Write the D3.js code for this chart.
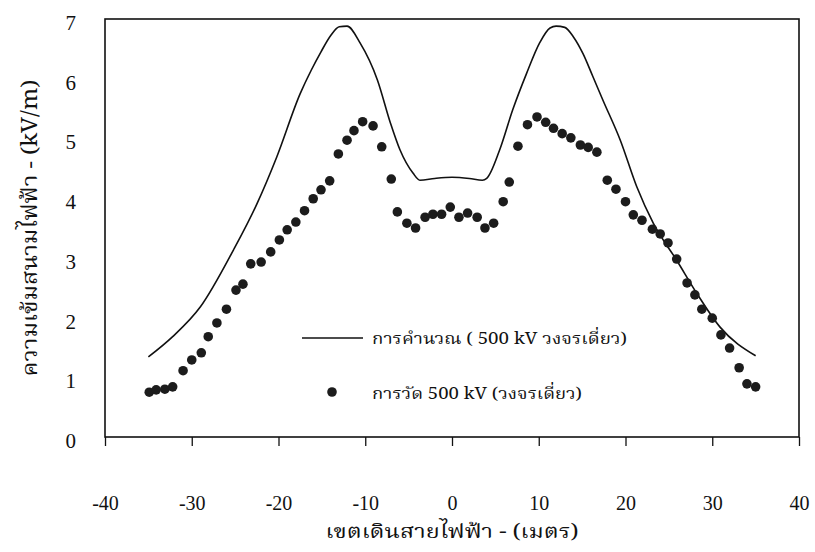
<!DOCTYPE html>
<html>
<head>
<meta charset="utf-8">
<script src="https://cdn.jsdelivr.net/npm/d3@7"></script>
<style>
  html, body { margin: 0; padding: 0; background: #ffffff; }
  svg { display: block; }
</style>
</head>
<body>
<svg id="chart" width="815" height="552"></svg>
<script>
// ---- data ----
const calcX = [-35, -32.2, -29, -25.2, -22.5, -20.2, -17.5, -16.2, -15.1, -14.0, -13.0, -12.1, -10.6, -8.6, -7.1, -6.0, -4.5, -3.7, -2, 0, 2, 3.5, 4.0, 5.5, 7.0, 8.6, 10.1, 11.3, 12.0, 13.0, 14.0, 15.1, 16.2, 17.4, 19.4, 21.3, 23.2, 25.9, 28.2, 30.9, 35];
const calcY = [1.34, 1.68, 2.18, 3.13, 3.9, 4.69, 5.75, 6.15, 6.45, 6.72, 6.87, 6.88, 6.60, 5.98, 5.26, 4.81, 4.42, 4.30, 4.33, 4.35, 4.33, 4.30, 4.33, 4.81, 5.48, 6.09, 6.60, 6.85, 6.88, 6.86, 6.70, 6.42, 6.05, 5.64, 4.97, 4.19, 3.58, 2.96, 2.41, 1.84, 1.36];

const measX = [-34.9, -34.1, -33.1, -32.2, -31.0, -30.0, -28.9, -28.1, -27.1, -26.0, -24.9, -24.1, -23.2, -22.0, -20.9, -19.9, -19.0, -18.0, -17.0, -16.0, -15.1, -14.1, -13.1, -12.1, -11.3, -10.3, -9.1, -8.1, -7.0, -6.3, -5.2, -4.2, -3.1, -2.2, -1.2, -0.2, 0.8, 1.8, 2.9, 3.8, 4.8, 5.9, 6.6, 7.6, 8.7, 9.8, 10.8, 11.7, 12.7, 13.7, 14.8, 15.7, 16.7, 17.9, 18.9, 20.0, 20.9, 21.9, 23.1, 24.0, 24.9, 25.9, 27.1, 28.0, 28.8, 30.0, 31.0, 32.0, 33.1, 34.0, 35.0];
const measY = [0.75, 0.79, 0.80, 0.84, 1.11, 1.29, 1.41, 1.68, 1.91, 2.14, 2.46, 2.56, 2.90, 2.93, 3.10, 3.30, 3.47, 3.60, 3.79, 3.99, 4.14, 4.29, 4.74, 4.97, 5.13, 5.28, 5.21, 4.86, 4.32, 3.77, 3.58, 3.50, 3.68, 3.73, 3.73, 3.85, 3.68, 3.75, 3.68, 3.50, 3.58, 3.94, 4.27, 4.87, 5.23, 5.36, 5.27, 5.17, 5.08, 5.01, 4.89, 4.85, 4.77, 4.30, 4.15, 3.94, 3.72, 3.63, 3.48, 3.40, 3.25, 2.98, 2.58, 2.38, 2.14, 1.99, 1.71, 1.49, 1.16, 0.89, 0.84];

const xTicks = [-40, -30, -20, -10, 0, 10, 20, 30, 40];
const yTicks = [0, 1, 2, 3, 4, 5, 6, 7];

const calcLabel = "การคำนวณ ( 500 kV วงจรเดี่ยว)";
const measLabel = "การวัด 500 kV (วงจรเดี่ยว)";
const xTitle = "เขตเดินสายไฟฟ้า - (เมตร)";
const yTitle = "ความเข้มสนามไฟฟ้า - (kV/m)";

// ---- layout ----
const L = 105, R = 799, T = 19, B = 437;
const serif = "'Liberation Serif', 'Times New Roman', serif";
const thai = "'Noto Serif Thai', 'Norasi', 'Noto Sans Thai', 'Loma', 'Garuda', 'Noto Sans', sans-serif";

const svg = d3.select("#chart");
const x = d3.scaleLinear().domain([-40, 40]).range([L, R]);
const y = d3.scaleLinear().domain([0, 7]).range([B, T]);

// frame
svg.append("rect").attr("x", L).attr("y", T).attr("width", R - L).attr("height", B - T)
  .attr("fill", "none").attr("stroke", "#111").attr("stroke-width", 1.6);

// x axis
const xAxis = d3.axisBottom(x).tickValues(xTicks).tickSize(9).tickPadding(58).tickFormat(d => String(d));
const gx = svg.append("g").attr("transform", `translate(0,${B})`).call(xAxis);
gx.select(".domain").remove();
gx.selectAll(".tick line").attr("stroke", "#111").attr("stroke-width", 1.3);
gx.selectAll(".tick text").attr("font-family", serif).attr("font-size", 20).attr("fill", "#111")
  .attr("dy", "0.32em");

// y axis (labels only)
const yAxis = d3.axisLeft(y).tickValues(yTicks).tickSize(0).tickPadding(29).tickFormat(d => String(d));
const gy = svg.append("g").attr("transform", `translate(${L},0)`).call(yAxis);
gy.select(".domain").remove();
gy.selectAll(".tick text").attr("font-family", serif).attr("font-size", 21).attr("fill", "#111")
  .attr("dy", "0.5em");

// calculated line
const line = d3.line().x(d => x(d[0])).y(d => y(d[1])).curve(d3.curveMonotoneX);
svg.append("path").datum(calcX.map((v, i) => [v, calcY[i]]))
  .attr("d", line).attr("fill", "none").attr("stroke", "#111").attr("stroke-width", 1.6);

// measured dots
svg.append("g").selectAll("circle").data(measX.map((v, i) => [v, measY[i]])).join("circle")
  .attr("cx", d => x(d[0])).attr("cy", d => y(d[1])).attr("r", 4.8).attr("fill", "#1c1c1c");

// legend
svg.append("line").attr("x1", 302).attr("x2", 363).attr("y1", 338).attr("y2", 338)
  .attr("stroke", "#111").attr("stroke-width", 1.6);
svg.append("text").attr("x", 372).attr("y", 344).text(calcLabel)
  .attr("font-family", thai).attr("font-size", 16).attr("fill", "#111")
  .attr("textLength", 255).attr("lengthAdjust", "spacingAndGlyphs");
svg.append("circle").attr("cx", 332).attr("cy", 392).attr("r", 4.8).attr("fill", "#1c1c1c");
svg.append("text").attr("x", 372).attr("y", 399).text(measLabel)
  .attr("font-family", thai).attr("font-size", 16).attr("fill", "#111")
  .attr("textLength", 210).attr("lengthAdjust", "spacingAndGlyphs");

// axis titles
svg.append("text").attr("x", x(0)).attr("y", 538).attr("text-anchor", "middle").text(xTitle)
  .attr("font-family", thai).attr("font-size", 19).attr("fill", "#111")
  .attr("textLength", 253).attr("lengthAdjust", "spacingAndGlyphs");
svg.append("text").attr("transform", `translate(37,${(T + B) / 2}) rotate(-90)`)
  .attr("text-anchor", "middle").text(yTitle)
  .attr("font-family", thai).attr("font-size", 21).attr("fill", "#111")
  .attr("textLength", 297).attr("lengthAdjust", "spacingAndGlyphs");
</script>
</body>
</html>
